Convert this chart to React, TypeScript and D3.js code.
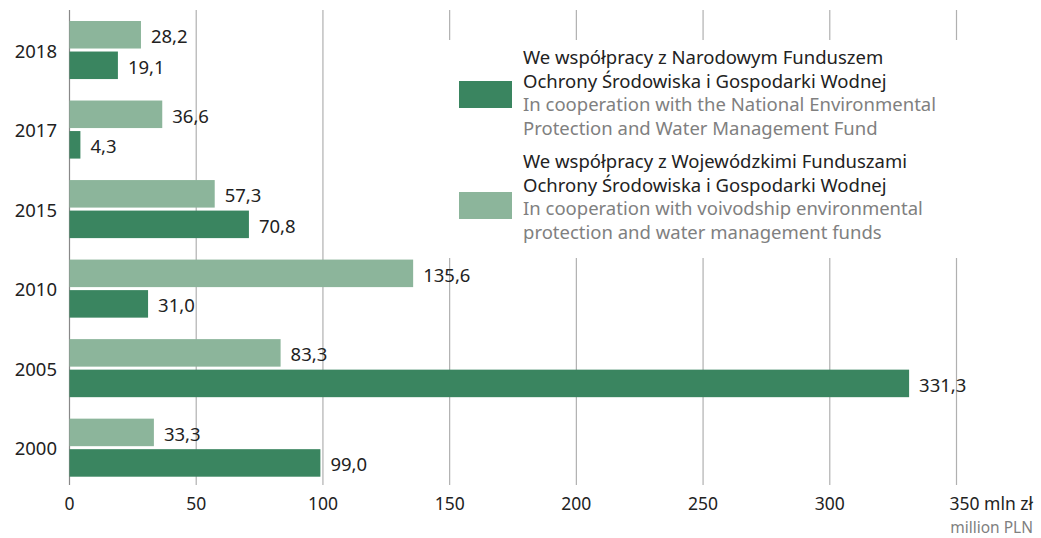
import React from "react";
import * as d3 from "d3";

const years = ["2018", "2017", "2015", "2010", "2005", "2000"];
const national = [19.1, 4.3, 70.8, 31.0, 331.3, 99.0];
const voivodship = [28.2, 36.6, 57.3, 135.6, 83.3, 33.3];
const ticks = [0, 50, 100, 150, 200, 250, 300, 350];

const legendItems = [
  {
    pl: ["We współpracy z Narodowym Funduszem", "Ochrony Środowiska i Gospodarki Wodnej"],
    en: ["In cooperation with the National Environmental", "Protection and Water Management Fund"],
    key: "national",
  },
  {
    pl: ["We współpracy z Wojewódzkimi Funduszami", "Ochrony Środowiska i Gospodarki Wodnej"],
    en: ["In cooperation with voivodship environmental", "protection and water management funds"],
    key: "voivodship",
  },
];

const DARK = "#3a8560";
const LIGHT = "#8cb59b";
const FONT = "'Noto Sans', sans-serif";
const fmt = (v: number) => v.toFixed(1).replace(".", ",");

export default function App() {
  const W = 1041, H = 538;
  const x = d3.scaleLinear().domain([0, 350]).range([69.5, 956.5]);
  const y = d3.scaleBand<string>().domain(years).range([21, 476.7]).paddingInner(0.27).paddingOuter(0);
  const bw = y.bandwidth();
  const gap = 3;
  const barH = (bw - gap) / 2;
  const sub = d3.scaleOrdinal<string, number>().domain(["voivodship", "national"]).range([0, barH + gap]);
  const colors: Record<string, string> = { national: DARK, voivodship: LIGHT };

  return (
    <svg width={W} height={H} style={{ position: "absolute", left: 0, top: 0 }} fontFamily={FONT}>
      {ticks.map((t) => (
        <line key={t} x1={x(t)} x2={x(t)} y1={10} y2={485} stroke={t === 0 ? "#888" : "#b0b0b0"} strokeWidth={1.2} />
      ))}
      {years.map((yr, i) => {
        const y0 = y(yr)!;
        const series = [
          { k: "voivodship", v: voivodship[i] },
          { k: "national", v: national[i] },
        ];
        return (
          <g key={yr}>
            <text x={57} y={y0 + bw / 2} textAnchor="end" dominantBaseline="central" fontSize={18.5} fill="#222">
              {yr}
            </text>
            {series.map((s) => {
              const by = y0 + sub(s.k);
              return (
                <g key={s.k}>
                  <rect x={x(0)} y={by} width={x(s.v) - x(0)} height={barH} fill={colors[s.k]} />
                  <text x={x(s.v) + 10} y={by + barH / 2 + 1} dominantBaseline="central" fontSize={18.5} fill="#222">
                    {fmt(s.v)}
                  </text>
                </g>
              );
            })}
          </g>
        );
      })}
      {ticks.map((t) =>
        t === 350 ? (
          <text key={t} x={1033} y={510} textAnchor="end" fontSize={17.5} fill="#222">
            350 mln zł
          </text>
        ) : (
          <text key={t} x={x(t)} y={510} textAnchor="middle" fontSize={17.5} fill="#222">
            {t}
          </text>
        )
      )}
      <text x={1033} y={533} textAnchor="end" fontSize={15.5} fill="#808080">
        million PLN
      </text>
      <rect x={440} y={40} width={520} height={218} fill="#fff" />
      {legendItems.map((it, j) => {
        const top = 64 + j * 104;
        return (
          <g key={it.key}>
            <rect x={459} y={81 + j * 111} width={53} height={27} fill={colors[it.key]} />
            {it.pl.map((l, k) => (
              <text key={"p" + k} x={523} y={top + k * 23.7} fontSize={18.5} fill="#222">
                {l}
              </text>
            ))}
            {it.en.map((l, k) => (
              <text key={"e" + k} x={523} y={top + (k + 2) * 23.7} fontSize={18.5} fill="#808080">
                {l}
              </text>
            ))}
          </g>
        );
      })}
    </svg>
  );
}
